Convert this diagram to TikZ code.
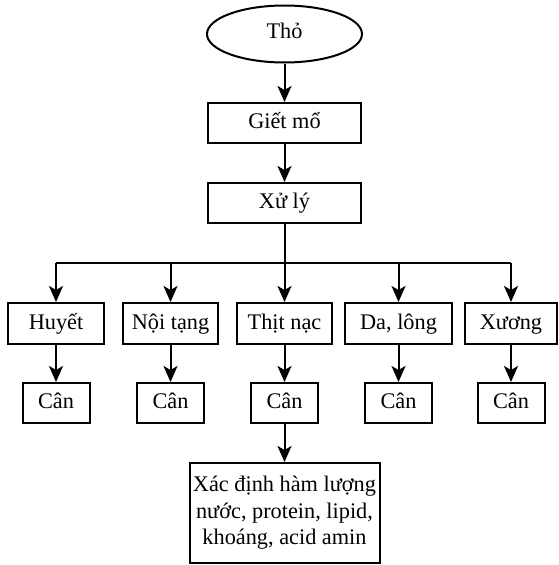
\documentclass[tikz,border=0pt]{standalone}
\usepackage{fontspec}
\setmainfont{Liberation Serif}
\usetikzlibrary{shapes.geometric,arrows.meta}
\tikzset{
    box/.style={draw, line width=2pt, inner sep=0pt, minimum height=41pt,
        text height=16pt, text depth=5pt},
    bigbox/.style={draw, line width=2pt, inner sep=0pt, minimum width=190pt,
        minimum height=100pt, align=center},
    arr/.style={line width=2pt, -{Stealth[length=16pt,width=14pt,inset=4pt]}}
}

\begin{document}
\begin{tikzpicture}[x=1pt, y=-1pt, font=\fontsize{22.3}{26.5}\selectfont]
            \useasboundingbox (0,0) rectangle (558,565);
            \node[box, ellipse, minimum width=155pt, minimum height=57pt, text height=13pt] (tho) at (284.5,34) {Thỏ};
            \node[box, minimum width=153pt, minimum height=40pt] (giet) at (284.5,123) {Giết mổ};
            \node[box, minimum width=153pt, minimum height=40pt] (xuly) at (284.5,203) {Xử lý};
            \node[box, minimum width=96pt] (huyet) at (56,323.5) {Huyết};
            \node[box, minimum width=95pt] (noitang) at (170.5,323.5) {Nội tạng};
            \node[box, minimum width=95pt] (thit) at (284.5,323.5) {Thịt nạc};
            \node[box, minimum width=107pt] (da) at (398.5,323.5) {Da, lông};
            \node[box, minimum width=92pt] (xuong) at (511,323.5) {Xương};
            \node[box, minimum width=67pt, minimum height=40pt] (canhuyet) at (56,403) {Cân};
            \node[box, minimum width=67pt, minimum height=40pt] (cannoitang) at (170.5,403) {Cân};
            \node[box, minimum width=67pt, minimum height=40pt] (canthit) at (284.5,403) {Cân};
            \node[box, minimum width=67pt, minimum height=40pt] (canda) at (398.5,403) {Cân};
            \node[box, minimum width=67pt, minimum height=40pt] (canxuong) at (511,403) {Cân};
            \node[bigbox] (xacdinh) at (284.5,513) {Xác định hàm lượng\\nước, protein, lipid,\\khoáng, acid amin};
            \coordinate (bus) at (0,263);
            \draw[arr] (tho) -- (giet);
            \draw[arr] (giet) -- (xuly);
            \draw[line width=2pt] (xuly) -- (xuly.south|-bus);
            \draw[line width=2pt] (huyet.north|-bus) -- (xuong.north|-bus);
            \draw[arr] (huyet.north|-bus) -- (huyet);
            \draw[arr] (noitang.north|-bus) -- (noitang);
            \draw[arr] (thit.north|-bus) -- (thit);
            \draw[arr] (da.north|-bus) -- (da);
            \draw[arr] (xuong.north|-bus) -- (xuong);
            \draw[arr] (huyet) -- (canhuyet);
            \draw[arr] (noitang) -- (cannoitang);
            \draw[arr] (thit) -- (canthit);
            \draw[arr] (da) -- (canda);
            \draw[arr] (xuong) -- (canxuong);
            \draw[arr] (canthit) -- (xacdinh);
        \end{tikzpicture}
\end{document}
